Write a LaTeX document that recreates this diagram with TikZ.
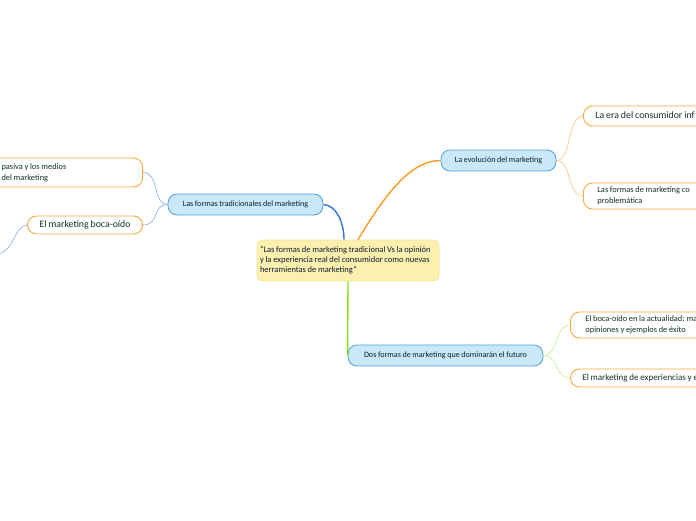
\documentclass[tikz,border=0pt]{standalone}
\usepackage{fontspec}
\setmainfont{Carlito}
\newcommand\tsp{\spaceskip=0.2em plus 0.04em minus 0.04em\xspaceskip=0.25em\relax}
\newcommand\tl[1]{\tsp\begin{tabular}{@{}l@{}}#1\end{tabular}}
\definecolor{cyel}{HTML}{FBF0AE}
\definecolor{cyelb}{HTML}{F3E39A}
\definecolor{tfill}{HTML}{C9E9FA}
\definecolor{tbord}{HTML}{4FA0DA}
\definecolor{lorng}{HTML}{F7A83A}
\definecolor{ttext}{HTML}{101a33}
\definecolor{ltext}{HTML}{123220}
\definecolor{cblue}{HTML}{3A6EE6}
\definecolor{corng}{HTML}{F79A26}
\definecolor{cgreen}{HTML}{84E21A}
\definecolor{lblue}{HTML}{8BA6F2}
\definecolor{lgreen}{HTML}{BDF28E}
\tikzset{
  central/.style={draw=cyelb, fill=cyel, rounded corners=5pt, line width=0.8pt, align=left,
    text width=176pt, minimum height=41pt, inner xsep=3pt, inner ysep=2pt, font=\fontsize{8.5}{10}\selectfont, text=ttext},
  topic/.style={draw=tbord, fill=tfill, rounded corners=9pt, line width=0.8pt, align=center,
    minimum height=21pt, inner xsep=4pt, font=\fontsize{8.1}{9}\selectfont\tsp, text=ttext},
  leaf/.style={draw=lorng, fill=white, rounded corners=9pt, line width=0.9pt, align=left,
    text=ltext, inner ysep=2pt},
  small/.style={font=\fontsize{8.4}{10.8}\selectfont},
  big/.style={font=\fontsize{9.8}{12}\selectfont},
  thickc/.style={line width=1.4pt},
  thinc/.style={line width=0.6pt}
}
\begin{document}
\begin{tikzpicture}[x=1pt,y=-1pt]
\useasboundingbox (0,0) rectangle (696,520);
\clip (0,0) rectangle (696,520);
\fill[white] (0,0) rectangle (696,520);

% central
\node[central] (c) at (348,260.5) {\tl{``Las formas de marketing tradicional Vs la opinión\\y la experiencia real del consumidor como nuevas\\herramientas de marketing''}};

% topics
\node[topic, minimum width=155pt] (t1) at (245.5,204.5) {Las formas tradicionales del marketing};
\node[topic, minimum width=115pt] (t2) at (498.5,160.5) {La evolución del marketing};
\node[topic, minimum width=195pt] (t3) at (445.5,355.5) {Dos formas de marketing que dominarán el futuro};

% left leaves
\node[leaf, small, anchor=east, minimum width=170pt, text width=112pt, inner xsep=29pt, minimum height=29pt] (l1) at (143,172.5) {\tl{pasiva y los medios\\del marketing}};
\node[leaf, big, anchor=east, minimum width=115pt, minimum height=18pt, align=center] (l2) at (143,225) {\tsp El marketing boca-oído};
\coordinate (l3) at (-4,254);

% right leaves
\node[leaf, big, anchor=west, minimum width=160pt, text width=136pt, inner xsep=12pt, minimum height=20pt] (r1) at (583,116) {\tl{La era del consumidor inf}};
\node[leaf, small, anchor=west, minimum width=160pt, text width=132pt, inner xsep=14pt, minimum height=26pt] (r2) at (583,196) {\tl{Las formas de marketing co\\problemática}};
\node[leaf, small, anchor=west, minimum width=170pt, text width=140pt, inner xsep=15pt, minimum height=26pt] (r3) at (570,325) {\tl{El boca-oído en la actualidad: ma\\opiniones y ejemplos de éxito}};
\node[leaf, font=\fontsize{9}{10}\selectfont, anchor=west, minimum width=170pt, text width=146pt, inner xsep=12pt, minimum height=18pt] (r4) at (570,378) {\tl{El marketing de experiencias y ej}};

% main connectors
\draw[cblue, thickc] (t1.east) .. controls (336,205) and (344,222) .. ([xshift=-4pt]c.north);
\draw[corng, thickc] ([xshift=10pt]c.north) .. controls (385,195) and (410,160.5) .. (t2.west);
\draw[cgreen, thickc] (c.south) -- (t3.west);

% leaf connectors
\draw[lblue, thinc] (t1.west) .. controls (152,204.5) and (160,172.5) .. (l1.east);
\draw[lblue, thinc] (t1.west) .. controls (152,204.5) and (160,225) .. (l2.east);
\draw[lblue, thinc] (l2.west) .. controls (14,225) and (14,254) .. (l3);
\draw[corng!60, thinc] (t2.east) .. controls (572,160.5) and (567,116) .. (r1.west);
\draw[corng!60, thinc] (t2.east) .. controls (572,160.5) and (567,196) .. (r2.west);
\draw[lgreen, thinc] (t3.east) .. controls (559,355.5) and (554,325) .. (r3.west);
\draw[lgreen, thinc] (t3.east) .. controls (559,355.5) and (554,378) .. (r4.west);
\end{tikzpicture}
\end{document}
